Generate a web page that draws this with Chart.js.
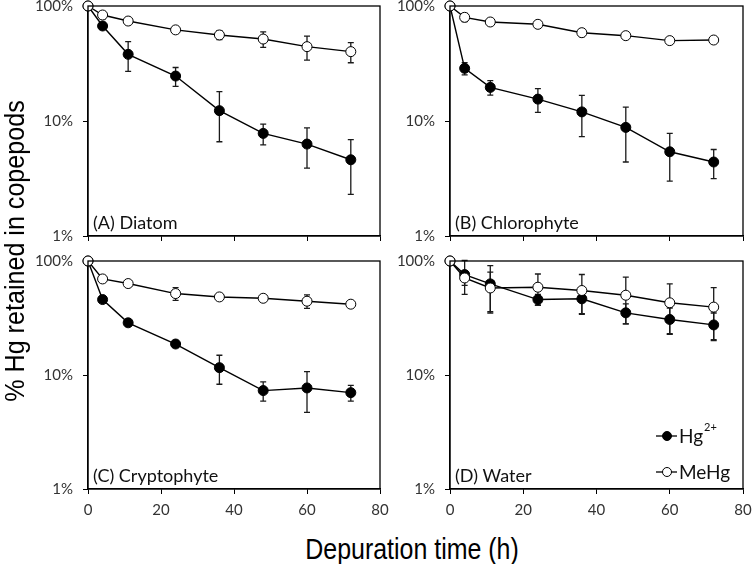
<!DOCTYPE html>
<html>
<head>
<meta charset="utf-8">
<script src="https://cdn.jsdelivr.net/npm/chart.js@4"></script>
<style>
  html, body { margin: 0; padding: 0; background: #fff; }
  #wrap { position: relative; width: 752px; height: 564px; overflow: hidden; background: #fff; }
  canvas { position: absolute; }
  .title { position: absolute; font-family: "Liberation Sans", Arial, sans-serif; color: #000; white-space: nowrap; text-align: center; }
</style>
</head>
<body>
<div id="wrap">
  <canvas id="cA" width="400" height="250" style="left:0px;top:0px"></canvas>
  <canvas id="cB" width="390" height="250" style="left:362px;top:0px"></canvas>
  <canvas id="cC" width="400" height="266" style="left:0px;top:255px"></canvas>
  <canvas id="cD" width="390" height="266" style="left:362px;top:255px"></canvas>
  <div class="title" id="ytitle" style="left:-185px;top:236px;width:400px;height:30px;line-height:30px;font-size:27px;transform:rotate(-90deg) scaleX(0.93);">% Hg retained in copepods</div>
  <div class="title" id="xtitle" style="left:212px;top:532px;width:400px;height:34px;line-height:34px;font-size:29px;transform:scaleX(0.86);">Depuration time (h)</div>
</div>
<script>
// ---- data ----
const times = [0, 4, 11, 24, 36, 48, 60, 72];
const xTicks = [0, 20, 40, 60, 80];
const yTicks = [1, 10, 100];
const seriesNames = ['Hg2+', 'MeHg'];
const panelLabels = ['(A) Diatom', '(B) Chlorophyte', '(C) Cryptophyte', '(D) Water'];

const diatomHg      = [100, 67, 38, 24.6, 12.3, 7.8, 6.3, 4.6];
const diatomHgErr   = [0, 4, 11, 4.6, 5.7, 1.6, 2.4, 2.3];
const diatomMeHg    = [100, 83.5, 74, 62, 56, 51.6, 44.3, 40.1];
const diatomMeHgErr = [0, 6, 3, 3, 5, 8, 10.5, 8];

const chloroHg      = [100, 28.7, 19.6, 15.5, 12.0, 8.8, 5.4, 4.4];
const chloroHgErr   = [0, 3.5, 2.8, 3.6, 4.7, 4.4, 2.4, 1.25];
const chloroMeHg    = [100, 79.7, 72.6, 69.3, 58.6, 55.2, 50.0, 50.6];
const chloroMeHgErr = [0, 6.5, 4, 2, 4.5, 2, 1.5, 1.5];

const cryptoHg      = [100, 45.9, 28.7, 18.7, 11.6, 7.3, 7.7, 7.0];
const cryptoHgErr   = [0, 1.5, 1, 1, 3.3, 1.4, 3.0, 1.1];
const cryptoMeHg    = [100, 69.6, 63.4, 51.8, 48.4, 47.1, 44.4, 41.8];
const cryptoMeHgErr = [0, 2, 2, 6.7, 2, 2, 6, 2];

const waterHg       = [100, 76, 63, 45.9, 46.6, 35.1, 30.7, 27.5];
const waterHgErr    = [0, 25, 28, 5, 12, 7, 8, 7.5];
const waterMeHg     = [100, 71, 58, 58.9, 55.1, 50.1, 43.0, 39.4];
const waterMeHgErr  = [0, 10, 22, 18, 21, 22, 20, 19];

// ---- plugins ----
const errorBars = {
  id: 'errorBars',
  beforeDatasetsDraw(chart) {
    const ctx = chart.ctx;
    const xs = chart.scales.x, ys = chart.scales.y;
    ctx.save();
    ctx.strokeStyle = '#1a1a1a';
    ctx.lineWidth = 1.3;
    chart.data.datasets.forEach(ds => {
      if (!ds.errors) return;
      ds.data.forEach((p, i) => {
        const e = ds.errors[i];
        if (!e) return;
        const x = xs.getPixelForValue(p.x);
        const yt = ys.getPixelForValue(p.y + e);
        const yb = ys.getPixelForValue(Math.max(p.y - e, 0.5));
        ctx.beginPath();
        ctx.moveTo(x, yt); ctx.lineTo(x, yb);
        ctx.moveTo(x - 3, yt); ctx.lineTo(x + 3, yt);
        ctx.moveTo(x - 3, yb); ctx.lineTo(x + 3, yb);
        ctx.stroke();
      });
    });
    ctx.restore();
  }
};

const frame = {
  id: 'frame',
  afterDraw(chart, args, opts) {
    const ctx = chart.ctx, a = chart.chartArea;
    ctx.save();
    ctx.strokeStyle = '#000';
    ctx.lineWidth = 1.3;
    ctx.strokeRect(a.left, a.top, a.right - a.left, a.bottom - a.top);
    ctx.fillStyle = '#111';
    ctx.font = '18px Lato, "Open Sans", sans-serif';
    ctx.textAlign = 'left';
    ctx.textBaseline = 'alphabetic';
    ctx.fillText(opts.label, a.left + 5, a.bottom - 7);
    if (opts.legend) {
      const rows = [
        { name: seriesNames[0], fill: '#000', y: a.bottom - 53 },
        { name: seriesNames[1], fill: '#fff', y: a.bottom - 17 }
      ];
      rows.forEach(r => {
        const lx = a.left + 206;
        ctx.strokeStyle = '#000';
        ctx.lineWidth = 1.3;
        ctx.beginPath(); ctx.moveTo(lx, r.y); ctx.lineTo(lx + 21, r.y); ctx.stroke();
        ctx.beginPath(); ctx.arc(lx + 11, r.y, 4.5, 0, Math.PI * 2);
        ctx.fillStyle = r.fill; ctx.fill(); ctx.lineWidth = 1; ctx.stroke();
        ctx.fillStyle = '#111';
        ctx.font = '19px Lato, "Open Sans", sans-serif';
        const tx = lx + 23;
        if (r.name === 'Hg2+') {
          ctx.fillText('Hg', tx, r.y + 7);
          const w = ctx.measureText('Hg').width;
          ctx.font = '11px Lato, "Open Sans", sans-serif';
          ctx.fillText('2+', tx + w + 1, r.y - 5);
        } else {
          ctx.fillText(r.name, tx, r.y + 7);
        }
      });
    }
    ctx.restore();
  }
};

function pts(arr) { return times.map((t, i) => ({ x: t, y: arr[i] })); }

function noPad(ax) { ax.paddingTop = 0; ax.paddingBottom = 0; ax.paddingLeft = 0; ax.paddingRight = 0; }

function makePanel(id, hg, hgErr, me, meErr, label, showXLabels, xHeight, padRight, legend) {
  const tickFont = { family: 'Lato, "Open Sans", sans-serif', size: 15 };
  new Chart(document.getElementById(id), {
    type: 'line',
    data: {
      datasets: [
        {
          label: seriesNames[1], data: pts(me), errors: meErr, order: 0,
          borderColor: '#000', borderWidth: 1.4, backgroundColor: '#fff',
          pointRadius: 5, pointBackgroundColor: '#fff', pointBorderColor: '#000', pointBorderWidth: 1,
          tension: 0, clip: false
        },
        {
          label: seriesNames[0], data: pts(hg), errors: hgErr, order: 1,
          borderColor: '#000', borderWidth: 1.4, backgroundColor: '#000',
          pointRadius: 5, pointBackgroundColor: '#000', pointBorderColor: '#000', pointBorderWidth: 1,
          tension: 0, clip: false
        }
      ]
    },
    options: {
      responsive: false, animation: false, devicePixelRatio: 1,
      layout: { padding: { top: 6, right: padRight, left: 0, bottom: 0 } },
      plugins: { legend: { display: false }, tooltip: { enabled: false }, frame: { label: label, legend: legend } },
      scales: {
        x: {
          type: 'linear', min: 0, max: 80,
          afterBuildTicks: ax => { ax.ticks = xTicks.map(v => ({ value: v })); },
          afterFit: ax => { ax.height = xHeight; noPad(ax); },
          border: { display: true, color: '#000', width: 1.3 },
          grid: { display: true, drawOnChartArea: false, drawTicks: true, tickLength: 5, color: '#000', lineWidth: 1 },
          ticks: { color: '#333', font: tickFont, padding: 7, maxRotation: 0,
                   callback: v => showXLabels ? String(v) : '' }
        },
        y: {
          type: 'logarithmic', min: 1, max: 100,
          afterBuildTicks: ax => { ax.ticks = yTicks.map(v => ({ value: v })); },
          afterFit: ax => { ax.width = 88; noPad(ax); },
          border: { display: true, color: '#000', width: 1.3 },
          grid: { display: true, drawOnChartArea: false, drawTicks: true, tickLength: 5, color: '#000', lineWidth: 1 },
          ticks: { color: '#333', font: tickFont, padding: 10, callback: v => v + '%' }
        }
      }
    },
    plugins: [errorBars, frame]
  });
}

makePanel('cA', diatomHg, diatomHgErr, diatomMeHg, diatomMeHgErr, panelLabels[0], false, 14, 20, false);
makePanel('cB', chloroHg, chloroHgErr, chloroMeHg, chloroMeHgErr, panelLabels[1], false, 14, 9, false);
makePanel('cC', cryptoHg, cryptoHgErr, cryptoMeHg, cryptoMeHgErr, panelLabels[2], true, 32, 20, false);
makePanel('cD', waterHg, waterHgErr, waterMeHg, waterMeHgErr, panelLabels[3], true, 32, 9, true);
</script>
</body>
</html>
